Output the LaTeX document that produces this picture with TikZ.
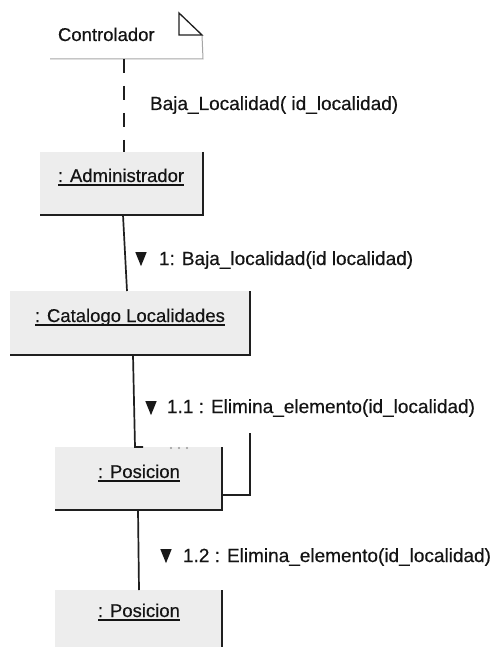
\documentclass[tikz,border=0pt]{standalone}
\usepackage{fontspec}
\setmainfont{Liberation Sans}
\newfontfamily\heavysans{Liberation Sans}[FakeBold=0.45]
\usetikzlibrary{calc,shapes.geometric}

% object name with a thick underline
\newcommand{\objname}[1]{\setbox0\hbox{#1}\rlap{\raisebox{-3.8pt}{\rule{\wd0}{1.6pt}}}\box0}

\begin{document}
\begin{tikzpicture}[x=1pt,y=-1pt,
  every node/.style={inner sep=0pt, outer sep=0pt},
  txt/.style={anchor=base west, font=\heavysans\fontsize{18.5}{22}\selectfont, text=black!92},
  msgtxt/.style={txt, font=\heavysans\fontsize{19}{22}\selectfont},
  objbox/.style={rectangle, fill=black!7, draw=none},
  edge/.style={draw=black!88, line width=1.7pt},
  faint/.style={draw=black!35, line width=1pt},
  msgtip/.style={isosceles triangle, isosceles triangle apex angle=44,
                 shape border rotate=-90, minimum height=14pt, fill=black!90}
]
\useasboundingbox[fill=white] (0,0) rectangle (493,647);

% ---- Controlador ----
\node[rectangle, minimum width=153pt, minimum height=49pt] (ctlbox) at (126.5,34.5) {};
\node[txt] (ctl) at (58,41) {Controlador};
\draw[faint] (ctlbox.south west) -- (ctlbox.south east) -- (202,35);
\draw[edge, line width=1.3pt] (179,13) -- (179,35) -- (202,35) -- cycle;

% ---- object boxes ----
\node[objbox, minimum width=163pt, minimum height=63pt] (adm) at (121.5,183.5) {};
\node[objbox, minimum width=240pt, minimum height=64pt] (cat) at (130,323) {};
\node[objbox, minimum width=167pt, minimum height=63pt] (pos) at (138.5,478.5) {};
\node[objbox, minimum width=167pt, minimum height=60pt] (pos2) at (138.5,620) {};

\draw[edge] (adm.north east) -- (adm.south east) -- (adm.south west);
\draw[edge] (cat.north east) -- (cat.south east) -- (cat.south west);
\draw[edge] (pos.north east) -- (pos.south east) -- (pos.south west);
\draw[edge] (pos2.north east) -- (pos2.south east);

\node[txt] (admlbl) at (58,182) {\objname{: Administrador}};
\node[txt] (catlbl) at (35,322) {\objname{: Catalogo Localidades}};
\node[txt] (poslbl) at (98,478) {\objname{: Posicion}};
\node[txt] (pos2lbl) at (98,617) {\objname{: Posicion}};

% ---- links ----
\draw[edge, line width=1.5pt, dash pattern=on 14pt off 13pt]
  ([xshift=-2.5pt]ctlbox.south) -- ([xshift=2.5pt]adm.north);
\draw[edge] ([xshift=1.5pt]adm.south) -- ([xshift=-3pt]cat.north);
\draw[edge] ([xshift=3pt]cat.south) -- ([xshift=-3.5pt]pos.north) -- ++(8,0);
\draw[edge] ([xshift=-0.5pt]pos.south) -- ([xshift=0.5pt]pos2.north);

% self link on Posicion
\coordinate (loopTop) at (250,433);
\draw[edge] (loopTop) |- ([yshift=15pt]pos.south east);
\foreach \dx in {171,179,187} \fill[black!40] (\dx,448) circle (1.1pt);

% ---- messages ----
\node[msgtxt] (msg0) at (150,110) {Baja\_Localidad( id\_localidad)};

\node[msgtip] (tip1) at (141,256) {};
\node[msgtxt] (msg1) at (159,265) {1: Baja\_localidad(id localidad)};

\node[msgtip] (tip11) at (151,405) {};
\node[msgtxt] (msg11) at (167,413) {1.1 : Elimina\_elemento(id\_localidad)};

\node[msgtip] (tip12) at (166,553) {};
\node[msgtxt] (msg12) at (183,562) {1.2 : Elimina\_elemento(id\_localidad)};
\end{tikzpicture}
\end{document}
